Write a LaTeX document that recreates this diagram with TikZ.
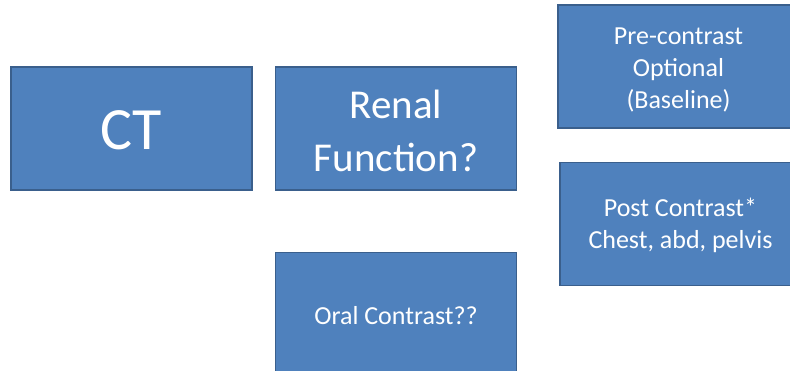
\documentclass[tikz,border=0pt]{standalone}
\usepackage{fontspec}
\setmainfont{Carlito}
\definecolor{boxfill}{HTML}{4F81BD}
\definecolor{boxline}{HTML}{3A5F8C}
\tikzset{
  stepbox/.style={draw=boxline, fill=boxfill, line width=1.6pt, rectangle,
    minimum width=241pt, minimum height=123pt, inner sep=0pt},
  boxtext/.style={text=white, align=center, inner sep=0pt},
  bigtext/.style={font=\fontsize{60}{72}\selectfont},
  midtext/.style={font=\fontsize{41}{53}\selectfont},
  smalltext/.style={font=\fontsize{26}{32}\selectfont},
}
\begin{document}
\begin{tikzpicture}[x=1pt,y=-1pt]
\path[use as bounding box, clip] (0,0) rectangle (790,370);
\fill[white] (0,0) rectangle (790,370);
\node[stepbox] (ct) at (131.5,128.5) {};
\node[stepbox] (renal) at (396,128.5) {};
\node[stepbox] (pre) at (678.5,66.5) {};
\node[stepbox] (post) at (680.5,224) {};
\node[stepbox] (oral) at (396,314) {};
\node[boxtext, bigtext] (ct-t) at ([yshift=-2pt]ct.center) {CT};
\node[boxtext, midtext] (renal-t) at ([yshift=-2.5pt]renal.center) {Renal\\Function?};
\node[boxtext, smalltext] (pre-t) at ([yshift=-3pt]pre.center) {Pre-contrast\\Optional\\(Baseline)};
\node[boxtext, smalltext] (post-t) at ([yshift=-1.5pt]post.center) {Post Contrast*\\Chest, abd, pelvis};
\node[boxtext, smalltext] (oral-t) at ([yshift=-2pt]oral.center) {Oral Contrast??};
\end{tikzpicture}
\end{document}
